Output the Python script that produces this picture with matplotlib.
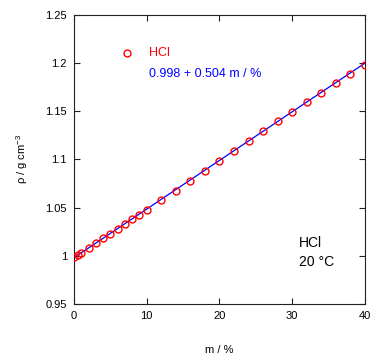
import matplotlib
matplotlib.use("Agg")
import matplotlib.pyplot as plt
import numpy as np

plt.rcParams['font.family'] = ['Liberation Sans', 'DejaVu Sans']

# data: mass percent of HCl and density (g/cm3) at 20 °C
m_pct = [0, 0.5, 1, 2, 3, 4, 5, 6, 7, 8, 9, 10, 12, 14, 16, 18, 20,
         22, 24, 26, 28, 30, 32, 34, 36, 38, 40]
rho = [0.9982, 1.0007, 1.0032, 1.0082, 1.0132, 1.0181, 1.0230, 1.0279,
       1.0327, 1.0376, 1.0425, 1.0474, 1.0574, 1.0675, 1.0776, 1.0878,
       1.0980, 1.1083, 1.1187, 1.1290, 1.1392, 1.1492, 1.1593, 1.1691,
       1.1789, 1.1885, 1.1980]
fit_intercept = 0.998
fit_slope = 0.504  # per 100 %
x_ticks = [0, 10, 20, 30, 40]
y_ticks = [0.95, 1.0, 1.05, 1.1, 1.15, 1.2, 1.25]
y_tick_labels = ["0.95", "1", "1.05", "1.1", "1.15", "1.2", "1.25"]

fig = plt.figure(figsize=(3.77, 3.59), dpi=100)
ax = fig.add_axes([0.1963, 0.1532, 0.7717, 0.8064])

xf = np.array([0, 40])
ax.plot(xf, fit_intercept + fit_slope * xf / 100, color='#0000ff', lw=0.9, zorder=2)
ax.plot(m_pct, rho, 'o', mfc='none', mec='#ff0000', mew=1.0, ms=5.0, zorder=3)

ax.set_xlim(0, 40)
ax.set_ylim(0.95, 1.25)
ax.set_xticks(x_ticks)
ax.set_yticks(y_ticks)
ax.set_yticklabels(y_tick_labels)
ax.tick_params(direction='in', length=4, width=0.8, top=True, right=True,
               labelsize=8, pad=5, colors='#222222', labelcolor='black')
for s in ax.spines.values():
    s.set_linewidth(0.8)
    s.set_color('#222222')

ax.set_xlabel('m / %', fontsize=8, labelpad=17)
ax.set_ylabel('ρ / g cm$^{\\mathregular{-3}}$', fontsize=8, labelpad=11)

# legend-like annotations
ax.plot([0.181], [0.867], 'o', mfc='none', mec='#ff0000', mew=1.0, ms=5.0,
        transform=ax.transAxes, clip_on=False)
ax.text(0.257, 0.867, 'HCl', color='#ff0000', fontsize=9, transform=ax.transAxes,
        ha='left', va='center')
ax.text(0.257, 0.794, '0.998 + 0.504 m / %', color='#0000ff', fontsize=9,
        transform=ax.transAxes, ha='left', va='center')
ax.text(0.773, 0.211, 'HCl', color='black', fontsize=10, transform=ax.transAxes,
        ha='left', va='center')
ax.text(0.773, 0.145, '20 °C', color='black', fontsize=10, transform=ax.transAxes,
        ha='left', va='center')

fig.savefig('out.png', dpi=100)
